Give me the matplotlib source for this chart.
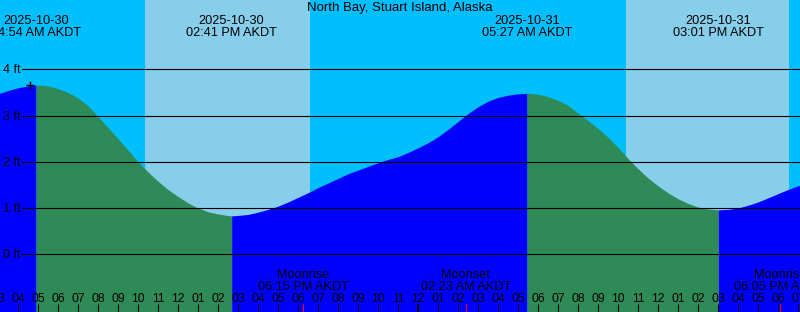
import matplotlib
matplotlib.use("Agg")
import matplotlib.pyplot as plt
import numpy as np

plt.rcParams["font.family"] = ["Liberation Sans", "DejaVu Sans"]

# hours are counted from 2025-10-30 00:00 AKDT
title = "North Bay, Stuart Island, Alaska"

# half-hourly readings of the tide curve (ft), 03:00 on the 30th to 19:30 on the 31st
tide_hours = np.arange(3.0, 43.75, 0.5)
tide_ft = [
    3.47, 3.54, 3.60, 3.64, 3.66, 3.64, 3.58, 3.50, 3.38, 3.21,
    2.98, 2.74, 2.50, 2.25, 2.00, 1.78, 1.58, 1.40, 1.25, 1.11,
    1.00, 0.92, 0.87, 0.84, 0.84, 0.86, 0.91, 0.97, 1.04, 1.13,
    1.23, 1.33, 1.44, 1.54, 1.64, 1.74, 1.82, 1.90, 1.98, 2.05,
    2.11, 2.20, 2.30, 2.41, 2.54, 2.70, 2.87, 3.04, 3.19, 3.31,
    3.39, 3.44, 3.47, 3.48, 3.46, 3.41, 3.33, 3.22, 3.05, 2.89,
    2.72, 2.53, 2.31, 2.07, 1.85, 1.65, 1.48, 1.33, 1.20, 1.10,
    1.02, 0.98, 0.96, 0.97, 1.00, 1.06, 1.13, 1.22, 1.31, 1.40,
    1.48, 1.56,
]

# high / low water
extreme_hours = [4.9, 14.6833, 29.45, 39.0167]
extreme_ft = [3.66, 0.83, 3.48, 0.96]
extreme_dates = ["2025-10-30", "2025-10-30", "2025-10-31", "2025-10-31"]
extreme_times = ["04:54 AM AKDT", "02:41 PM AKDT", "05:27 AM AKDT", "03:01 PM AKDT"]

# daylight
sunrise_hours = [10.35, 34.4]
sunset_hours = [18.6, 42.55]

# moon
moon_hours = [18.25, 26.3833, 42.0833]
moon_events = ["Moonrise", "Moonset", "Moonrise"]
moon_times = ["06:15 PM AKDT", "02:23 AM AKDT", "06:05 PM AKDT"]

now_hour = 4.61
now_ft = 3.65

levels = [0, 1, 2, 3, 4]

W, H = 800, 312
fig = plt.figure(figsize=(W / 100, H / 100), dpi=100)
ax = fig.add_axes([0, 0, 1, 1])
ax.set_xlim(3.1, 43.1)
ax.set_ylim(-1.248, 5.498)
ax.set_xticks([])
ax.set_yticks([])
for s in ax.spines.values():
    s.set_visible(False)
ax.set_facecolor("#00BFFF")

xt = ax.get_xaxis_transform()
yt = ax.get_yaxis_transform()


def py(px):
    # pixel row from the top -> axes fraction
    return 1 - px / H


for a, b in zip(sunrise_hours, sunset_hours):
    ax.axvspan(a, b, color="#87CEEB", lw=0, zorder=0)

# tide fill, blue while rising, green while falling
t = np.concatenate([tide_hours, extreme_hours])
h = np.concatenate([tide_ft, extreme_ft])
order = np.argsort(t)
t, h = t[order], h[order]
bounds = [t[0]] + extreme_hours + [t[-1]]
for a, b in zip(bounds[:-1], bounds[1:]):
    sel = (t >= a) & (t <= b)
    hs = h[sel]
    col = "#0000FF" if hs[-1] > hs[0] else "#2E8B57"
    ax.fill_between(t[sel], hs, -2, color=col, lw=0, zorder=1)

for lv in levels:
    ax.axhline(lv, xmin=22 / W, color="black", lw=0.8, zorder=2)
    ax.text(3 / W, lv - 4.2 / 46.25, f"{lv} ft", transform=yt,
            ha="left", va="baseline", fontsize=9)

ax.plot(now_hour, now_ft, marker="+", color="black", ms=6, mew=1, zorder=3)

ax.text(0.5, py(11), title, transform=ax.transAxes, ha="center",
        va="baseline", fontsize=9.5)

for x, d, tm in zip(extreme_hours, extreme_dates, extreme_times):
    ax.text(x, py(24), d, transform=xt, ha="center", va="baseline", fontsize=9.2)
    ax.text(x, py(36), tm, transform=xt, ha="center", va="baseline", fontsize=9.2)

for x, ev, tm in zip(moon_hours, moon_events, moon_times):
    ax.text(x, py(278.5), ev, transform=xt, ha="center", va="baseline", fontsize=9.2)
    ax.text(x, py(290), tm, transform=xt, ha="center", va="baseline", fontsize=9.2)
    ax.vlines(x, 0, py(304), transform=xt, color="red", lw=0.8, zorder=4)

for hr in range(3, 44):
    lw = 1.6 if hr % 24 == 0 else 0.8
    ax.vlines(hr, 0, py(304), transform=xt, color="black", lw=lw, zorder=3)
    ax.text(hr, py(302), f"{(hr % 12) or 12:02d}", transform=xt,
            ha="center", va="baseline", fontsize=8.8)

fig.savefig("out.png", dpi=100)
